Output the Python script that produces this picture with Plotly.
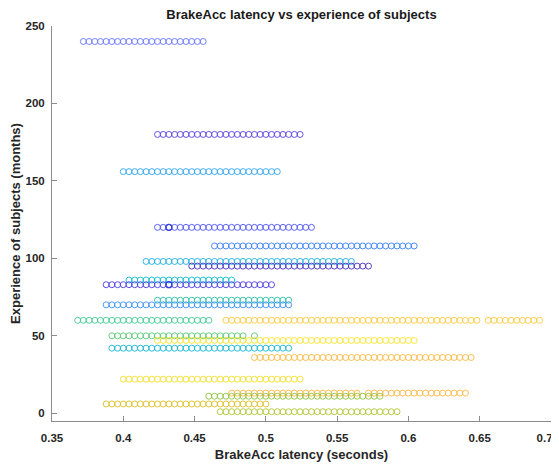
import plotly.graph_objects as go

# Experience (months) of each subject
exp_T = 240
exp_U = 180
exp_V = 156
exp_A = 120
exp_B = 108
exp_C = 98
exp_D = 95
exp_E = 86
exp_F = 83
exp_G = 73
exp_H = 70
exp_I = 60
exp_J = 60
exp_K = 50
exp_L = 47
exp_M = 42
exp_N = 36
exp_O = 22
exp_P = 13
exp_Q = 11
exp_R = 6
exp_S = 1

# BrakeAcc latencies (milliseconds) per subject
lat_T = [372, 376, 380, 384, 388, 392, 396, 400, 404, 408, 412, 416, 420, 424, 428, 432, 436, 440, 444, 448, 452, 456]
lat_U = [424, 428, 432, 436, 440, 444, 448, 452, 456, 460, 464, 468, 472, 476, 480, 484, 488, 492, 496, 500, 504, 508, 512, 516, 520, 524]
lat_V = [400, 404, 408, 412, 416, 420, 424, 428, 432, 436, 440, 444, 448, 452, 456, 460, 464, 468, 472, 476, 480, 484, 488, 492, 496, 500, 504, 508]
lat_A = [424, 428, 432, 436, 440, 444, 448, 452, 456, 460, 464, 468, 472, 476, 480, 484, 488, 492, 496, 500, 504, 508, 512, 516, 520, 524, 528, 532]
lat_B = [464, 468, 472, 476, 480, 484, 488, 492, 496, 500, 504, 508, 512, 516, 520, 524, 528, 532, 536, 540, 544, 548, 552, 556, 560, 564, 568, 572, 576, 580, 584, 588, 592, 596, 600, 604]
lat_C = [416, 420, 424, 428, 432, 436, 440, 444, 448, 452, 456, 460, 464, 468, 472, 476, 480, 484, 488, 492, 496, 500, 504, 508, 512, 516, 520, 524, 528, 532, 536, 540, 544, 548, 552, 556, 560]
lat_D = [448, 452, 456, 460, 464, 468, 472, 476, 480, 484, 488, 492, 496, 500, 504, 508, 512, 516, 520, 524, 528, 532, 536, 540, 544, 548, 552, 556, 560, 564, 568, 572]
lat_E = [404, 408, 412, 416, 420, 424, 428, 432, 436, 440, 444, 448, 452, 456, 460, 464, 468, 472, 476]
lat_F = [388, 392, 396, 400, 404, 408, 412, 416, 420, 424, 428, 432, 436, 440, 444, 448, 452, 456, 460, 464, 468, 472, 476, 480, 484, 488, 492, 496, 500, 504]
lat_G = [424, 428, 432, 436, 440, 444, 448, 452, 456, 460, 464, 468, 472, 476, 480, 484, 488, 492, 496, 500, 504, 508, 512, 516]
lat_H = [388, 392, 396, 400, 404, 408, 412, 416, 420, 424, 428, 432, 436, 440, 444, 448, 452, 456, 460, 464, 468, 472, 476, 480, 484, 488, 492, 496, 500, 504, 508, 512, 516]
lat_I = [368, 372, 376, 380, 384, 388, 392, 396, 400, 404, 408, 412, 416, 420, 424, 428, 432, 436, 440, 444, 448, 452, 456, 460]
lat_J = [472, 476, 480, 484, 488, 492, 496, 500, 504, 508, 512, 516, 520, 524, 528, 532, 536, 540, 544, 548, 552, 556, 560, 564, 568, 572, 576, 580, 584, 588, 592, 596, 600, 604, 608, 612, 616, 620, 624, 628, 632, 636, 640, 644, 648,
         656, 660, 664, 668, 672, 676, 680, 684, 688, 692]
lat_K = [392, 396, 400, 404, 408, 412, 416, 420, 424, 428, 432, 436, 440, 444, 448, 452, 456, 460, 464, 468, 472, 476, 480, 484, 492]
lat_L = [424, 428, 432, 436, 440, 444, 448, 452, 456, 460, 464, 468, 472, 476, 480, 484, 488, 492, 496, 500, 504, 508, 512, 516, 520, 524, 528, 532, 536, 540, 544, 548, 552, 556, 560, 564, 568, 572, 576, 580, 584, 588, 592, 596, 600, 604]
lat_M = [392, 396, 400, 404, 408, 412, 416, 420, 424, 428, 432, 436, 440, 444, 448, 452, 456, 460, 464, 468, 472, 476, 480, 484, 488, 492, 496, 500, 504, 508, 512, 516]
lat_N = [492, 496, 500, 504, 508, 512, 516, 520, 524, 528, 532, 536, 540, 544, 548, 552, 556, 560, 564, 568, 572, 576, 580, 584, 588, 592, 596, 600, 604, 608, 612, 616, 620, 624, 628, 632, 636, 640, 644]
lat_O = [400, 404, 408, 412, 416, 420, 424, 428, 432, 436, 440, 444, 448, 452, 456, 460, 464, 468, 472, 476, 480, 484, 488, 492, 496, 500, 504, 508, 512, 516, 520, 524]
lat_P = [476, 480, 484, 488, 492, 496, 500, 504, 508, 512, 516, 520, 524, 528, 532, 536, 540, 544, 548, 552, 556, 560, 564,
         572, 576, 580, 584, 588, 592, 596, 600, 604, 608, 612, 616, 620, 624, 628, 632, 636, 640]
lat_Q = [460, 464, 468, 472, 476, 480, 484, 488, 492, 496, 500, 504, 508, 512, 516, 520, 524, 528, 532, 536, 540, 544, 548, 552, 556, 560, 564, 568, 572, 576, 580]
lat_R = [388, 392, 396, 400, 404, 408, 412, 416, 420, 424, 428, 432, 436, 440, 444, 448, 452, 456, 460, 464, 468, 472, 476, 480, 484, 488, 492, 496, 500]
lat_S = [468, 472, 476, 480, 484, 488, 492, 496, 500, 504, 508, 512, 516, 520, 524, 528, 532, 536, 540, 544, 548, 552, 556, 560, 564, 568, 572, 576, 580, 584, 588, 592]

# two extra overlapping points
extra_exp = [120, 83]
extra_lat = [432, 432]

x_ticks = [0.35, 0.4, 0.45, 0.5, 0.55, 0.6, 0.65, 0.7]
x_tick_labels = ["0.35", "0.4", "0.45", "0.5", "0.55", "0.6", "0.65", "0.7\u2007\u2007"]
y_ticks = [0, 50, 100, 150, 200, 250]

subjects = [
    (exp_T, lat_T, "#6474fa"),
    (exp_U, lat_U, "#5a40dc"),
    (exp_V, lat_V, "#2ea4ee"),
    (exp_A, lat_A, "#4c52f2"),
    (exp_B, lat_B, "#3880fa"),
    (exp_C, lat_C, "#1caee0"),
    (exp_D, lat_D, "#4a2fbf"),
    (exp_E, lat_E, "#0cbcd0"),
    (exp_F, lat_F, "#4a3ae2"),
    (exp_G, lat_G, "#2ec2a4"),
    (exp_H, lat_H, "#3a8ef8"),
    (exp_I, lat_I, "#40c894"),
    (exp_J, lat_J, "#fdc83c"),
    (exp_K, lat_K, "#58c874"),
    (exp_L, lat_L, "#f6e42a"),
    (exp_M, lat_M, "#16b6d2"),
    (exp_N, lat_N, "#f9b840"),
    (exp_O, lat_O, "#f2e026"),
    (exp_P, lat_P, "#fdb844"),
    (exp_Q, lat_Q, "#92c244"),
    (exp_R, lat_R, "#dcc024"),
    (exp_S, lat_S, "#b0c632"),
]

fig = go.Figure()
for yv, lat, col in subjects:
    fig.add_trace(go.Scatter(
        x=[v / 1000 for v in lat], y=[yv] * len(lat), mode="markers",
        marker=dict(symbol="circle-open", size=6, color=col, line=dict(width=0.9, color=col)),
        showlegend=False, hoverinfo="x+y"))
fig.add_trace(go.Scatter(
    x=[v / 1000 for v in extra_lat], y=extra_exp, mode="markers",
    marker=dict(symbol="circle-open", size=6, color="#3a3fe0", line=dict(width=1.3, color="#3a3fe0")),
    showlegend=False))

# page has an 8px body margin, so the figure is sized/offset to compensate
font_family = "Liberation Sans, Arial, sans-serif"
fig.update_layout(
    width=551, height=456,
    margin=dict(l=44, r=8, t=18, b=43),
    paper_bgcolor="white", plot_bgcolor="white",
    font=dict(family=font_family, color="#262626"),
    title=dict(text="<b>BrakeAcc latency vs experience of subjects</b>",
               xref="paper", x=0.5, xanchor="center", yref="container", y=0.986, yanchor="middle",
               font=dict(size=13, color="#1a1a1a")),
)
fig.update_xaxes(
    range=[0.35, 0.7], tickvals=x_ticks, ticktext=x_tick_labels, automargin=False,
    ticklabeloverflow="allow",
    showgrid=False, zeroline=False, showline=True, linecolor="#8c8c8c", linewidth=1,
    ticks="inside", ticklen=5, tickcolor="#8c8c8c", ticklabelstandoff=6,
    tickfont=dict(size=11.5, family=font_family, color="#262626", weight="bold"),
    title=dict(text="<b>BrakeAcc latency (seconds)</b>", font=dict(size=13, color="#262626"), standoff=7),
)
fig.update_yaxes(
    range=[-5, 250], tickvals=y_ticks, automargin=False,
    showgrid=False, zeroline=False, showline=True, linecolor="#8c8c8c", linewidth=1,
    ticks="inside", ticklen=5, tickcolor="#8c8c8c", ticklabelstandoff=4,
    tickfont=dict(size=11.5, family=font_family, color="#262626", weight="bold"),
    title=dict(text="<b>Experience of subjects (months)</b>", font=dict(size=13, color="#262626"), standoff=12),
)
fig.write_html("out.html")
